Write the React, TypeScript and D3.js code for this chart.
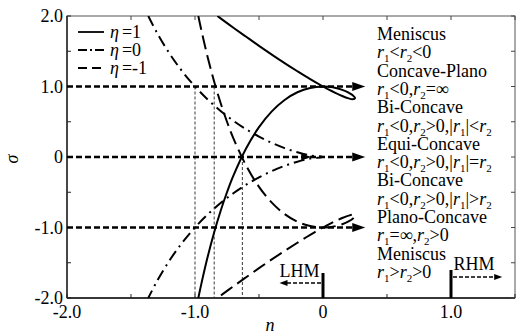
import { useRef, useEffect } from 'react';
import { select, scaleLinear, line, curveCatmullRom, range } from 'd3';

// eta = 1 (solid): lower branch up to the loop tip, then back along the upper branch
const nSolid = [-0.974, -0.95, -0.9, -0.85, -0.8, -0.75, -0.7, -0.6, -0.5, -0.4, -0.3, -0.2, -0.1, 0, 0.05, 0.1, 0.15, 0.2, 0.23, 0.25, 0.23, 0.2, 0.15, 0.1, 0.05, 0, -0.1, -0.2, -0.3, -0.4, -0.5, -0.6, -0.7, -0.8, -0.825];
const sigmaSolid = [-2.0, -1.796, -1.409, -1.068, -0.766, -0.5, -0.265, 0.124, 0.423, 0.647, 0.809, 0.918, 0.98, 1.0, 0.995, 0.98, 0.953, 0.913, 0.879, 0.833, 0.82, 0.832, 0.865, 0.906, 0.951, 1.0, 1.104, 1.216, 1.332, 1.453, 1.577, 1.705, 1.834, 1.966, 2.0];

// eta = -1 (dashed)
const nDashed = [-0.974, -0.95, -0.9, -0.85, -0.8, -0.75, -0.7, -0.6, -0.5, -0.4, -0.3, -0.2, -0.1, 0, 0.05, 0.1, 0.15, 0.2, 0.23, 0.25, 0.23, 0.2, 0.15, 0.1, 0.05, 0, -0.1, -0.2, -0.3, -0.4, -0.5, -0.6, -0.7, -0.8, -0.825];
const sigmaDashed = [2.0, 1.796, 1.409, 1.068, 0.766, 0.5, 0.265, -0.124, -0.423, -0.647, -0.809, -0.918, -0.98, -1.0, -0.995, -0.98, -0.953, -0.913, -0.879, -0.833, -0.82, -0.832, -0.865, -0.906, -0.951, -1.0, -1.104, -1.216, -1.332, -1.453, -1.577, -1.705, -1.834, -1.966, -2.0];

// eta = 0 (dash-dot)
const nDashDot = [-1.365, -1.3, -1.2, -1.1, -1.0, -0.9, -0.8, -0.7, -0.6, -0.5, -0.4, -0.3, -0.2, -0.1, 0, -0.1, -0.2, -0.3, -0.4, -0.5, -0.6, -0.7, -0.8, -0.9, -1.0, -1.1, -1.2, -1.3, -1.365];
const sigmaDashDot = [2.0, 1.772, 1.47, 1.216, 1.0, 0.814, 0.653, 0.514, 0.393, 0.289, 0.2, 0.126, 0.067, 0.023, 0, -0.023, -0.067, -0.126, -0.2, -0.289, -0.393, -0.514, -0.653, -0.814, -1.0, -1.216, -1.47, -1.772, -2.0];

const xTickValues = [-2, -1, 0, 1];
const xTickLabels = ['-2.0', '-1.0', '0', '1.0'];
const yTickValues = [2, 1, 0, -1, -2];
const yTickLabels = ['2.0', '1.0', '0', '-1.0', '-2.0'];

const arrowLevels = [1, 0, -1];
const guideN = [-1.0, -0.85, -0.63];
const guideTop = [1, 1, 0];

const legendLabels = ['=1', '=0', '=-1'];
const legendDashes = ['none', '9,3,2,3', '9,5'];

const regionLines = [
  'Meniscus', 'r1<r2<0',
  'Concave-Plano', 'r1<0,r2=∞',
  'Bi-Concave', 'r1<0,r2>0,|r1|<r2',
  'Equi-Concave', 'r1<0,r2>0,|r1|=r2',
  'Bi-Concave', 'r1<0,r2>0,|r1|>r2',
  'Plano-Concave', 'r1=∞,r2>0',
  'Meniscus', 'r1>r2>0',
];

const W = 516;
const H = 335;
const margin = { top: 16, right: 1, bottom: 37, left: 67 };
const font = "'Liberation Serif', 'Times New Roman', Times, serif";

export default function App() {
  const svgRef = useRef<SVGSVGElement>(null);

  useEffect(() => {
    if (!svgRef.current) return;
    const svg = select(svgRef.current);
    svg.selectAll('*').remove();
    svg.style('font-family', font).style('font-size', '18px');

    const x = scaleLinear().domain([-2, 1.5]).range([margin.left, W - margin.right]);
    const y = scaleLinear().domain([-2, 2]).range([H - margin.bottom, margin.top]);
    const x0 = x(-2), x1 = x(1.5), y0 = y(-2), y1 = y(2);

    svg.append('defs').append('clipPath').attr('id', 'plot-clip')
      .append('rect').attr('x', x0).attr('y', y1).attr('width', x1 - x0).attr('height', y0 - y1);

    // Frame
    svg.append('rect')
      .attr('x', x0).attr('y', y1).attr('width', x1 - x0).attr('height', y0 - y1)
      .attr('fill', 'none').attr('stroke', '#555').attr('stroke-width', 1);
    svg.append('line').attr('x1', x0).attr('x2', x0).attr('y1', y1).attr('y2', y0)
      .attr('stroke', '#111').attr('stroke-width', 1.3);
    svg.append('line').attr('x1', x0).attr('x2', x1).attr('y1', y0).attr('y2', y0)
      .attr('stroke', '#111').attr('stroke-width', 1.3);

    // Ticks every 0.5, pointing inward
    const tk = 4;
    range(-2, 1.51, 0.5).forEach((v) => {
      svg.append('line').attr('x1', x(v)).attr('x2', x(v)).attr('y1', y0).attr('y2', y0 - tk).attr('stroke', '#222');
      svg.append('line').attr('x1', x(v)).attr('x2', x(v)).attr('y1', y1).attr('y2', y1 + tk).attr('stroke', '#444');
    });
    range(-2, 2.01, 0.5).forEach((v) => {
      svg.append('line').attr('x1', x0).attr('x2', x0 + tk).attr('y1', y(v)).attr('y2', y(v)).attr('stroke', '#222');
      svg.append('line').attr('x1', x1).attr('x2', x1 - tk).attr('y1', y(v)).attr('y2', y(v)).attr('stroke', '#444');
    });

    // Tick labels
    svg.selectAll('.xl').data(xTickValues).enter().append('text')
      .attr('x', (d) => x(d)).attr('y', y0 + 20)
      .attr('text-anchor', 'middle')
      .text((_, i) => xTickLabels[i]);
    svg.selectAll('.yl').data(yTickValues).enter().append('text')
      .attr('x', x0 - 4).attr('y', (d) => y(d) + 6)
      .attr('text-anchor', 'end')
      .text((_, i) => yTickLabels[i]);

    // Axis titles
    svg.append('text').attr('x', x(-0.45)).attr('y', y0 + 33)
      .attr('font-style', 'italic').text('n');
    svg.append('text').attr('transform', `translate(18,${y(0) + 2}) rotate(-90)`)
      .attr('text-anchor', 'middle').attr('font-style', 'italic').text('σ');

    // Thin guide lines
    guideN.forEach((n, i) => {
      svg.append('line').attr('x1', x(n)).attr('x2', x(n)).attr('y1', y(guideTop[i])).attr('y2', y0)
        .attr('stroke', '#222').attr('stroke-width', 0.9).attr('stroke-dasharray', '3,2');
    });

    const g = svg.append('g').attr('clip-path', 'url(#plot-clip)');
    const path = (ns: number[], ss: number[]) =>
      line<number>().x((d) => x(ns[d])).y((d) => y(ss[d])).curve(curveCatmullRom.alpha(0.5))(range(ns.length));

    g.append('path').attr('d', path(nSolid, sigmaSolid)).attr('fill', 'none').attr('stroke', '#000').attr('stroke-width', 2);
    g.append('path').attr('d', path(nDashed, sigmaDashed)).attr('fill', 'none').attr('stroke', '#000').attr('stroke-width', 2)
      .attr('stroke-dasharray', '14,6');
    g.append('path').attr('d', path(nDashDot, sigmaDashDot)).attr('fill', 'none').attr('stroke', '#000').attr('stroke-width', 2)
      .attr('stroke-dasharray', '11,5,2,5');

    // Horizontal thick dashed arrows
    const arrowEnd = x(0.33);
    arrowLevels.forEach((s) => {
      svg.append('line').attr('x1', x0).attr('x2', arrowEnd - 8).attr('y1', y(s)).attr('y2', y(s))
        .attr('stroke', '#000').attr('stroke-width', 2.6).attr('stroke-dasharray', '6,3');
      svg.append('path')
        .attr('d', `M${arrowEnd},${y(s)} L${arrowEnd - 13},${y(s) - 4.5} L${arrowEnd - 13},${y(s) + 4.5} Z`)
        .attr('fill', '#000');
    });
    svg.append('path')
      .attr('d', `M${x(-0.09)},${y(0)} L${x(-0.17)},${y(0) - 3.5} L${x(-0.17)},${y(0) + 3.5} Z`)
      .attr('fill', '#000');

    // Legend
    legendLabels.forEach((lab, i) => {
      const ly = 32 + i * 18;
      svg.append('line').attr('x1', 78).attr('x2', 104).attr('y1', ly).attr('y2', ly)
        .attr('stroke', '#000').attr('stroke-width', 1.8).attr('stroke-dasharray', legendDashes[i]);
      const t = svg.append('text').attr('x', 110).attr('y', ly + 6);
      t.append('tspan').attr('font-style', 'italic').text('η');
      t.append('tspan').attr('dx', 3).text(lab);
    });

    // Region labels on the right: italic r with subscript 1/2
    regionLines.forEach((txt, i) => {
      const t = svg.append('text').attr('x', 377).attr('y', 40 + i * 18.3);
      if (i % 2 === 0) {
        t.text(txt);
        return;
      }
      let shift = 0;
      for (let k = 0; k < txt.length; k++) {
        const c = txt[k];
        if (c === 'r' && /[12]/.test(txt[k + 1] || '')) {
          t.append('tspan').attr('font-style', 'italic').attr('dy', -shift).text('r');
          t.append('tspan').attr('font-size', 11).attr('dy', 4).text(txt[k + 1]);
          shift = 4;
          k++;
        } else {
          t.append('tspan').attr('dy', -shift).text(c);
          shift = 0;
        }
      }
    });

    // LHM / RHM markers
    svg.append('line').attr('x1', x(0)).attr('x2', x(0)).attr('y1', y0 - 25).attr('y2', y0)
      .attr('stroke', '#000').attr('stroke-width', 3);
    svg.append('line').attr('x1', x(0) - 2).attr('x2', x(-0.3)).attr('y1', y0 - 15).attr('y2', y0 - 15)
      .attr('stroke', '#000').attr('stroke-width', 1.4).attr('stroke-dasharray', '4,2');
    svg.append('path')
      .attr('d', `M${x(-0.34)},${y0 - 15} L${x(-0.34) + 8},${y0 - 18} L${x(-0.34) + 8},${y0 - 12} Z`).attr('fill', '#000');
    svg.append('text').attr('x', x(-0.34)).attr('y', y0 - 21).text('LHM');

    svg.append('line').attr('x1', x(1)).attr('x2', x(1)).attr('y1', y0 - 28).attr('y2', y0)
      .attr('stroke', '#000').attr('stroke-width', 3);
    svg.append('line').attr('x1', x(1) + 2).attr('x2', x(1.35)).attr('y1', y0 - 21).attr('y2', y0 - 21)
      .attr('stroke', '#000').attr('stroke-width', 1.4).attr('stroke-dasharray', '4,2');
    svg.append('path')
      .attr('d', `M${x(1.4)},${y0 - 21} L${x(1.4) - 8},${y0 - 24} L${x(1.4) - 8},${y0 - 18} Z`).attr('fill', '#000');
    svg.append('text').attr('x', x(1.02)).attr('y', y0 - 28).text('RHM');
  }, []);

  return (
    <div style={{ position: 'absolute', left: 0, top: 0, width: W, height: H, background: '#fff' }}>
      <svg ref={svgRef} width={W} height={H} />
    </div>
  );
}
